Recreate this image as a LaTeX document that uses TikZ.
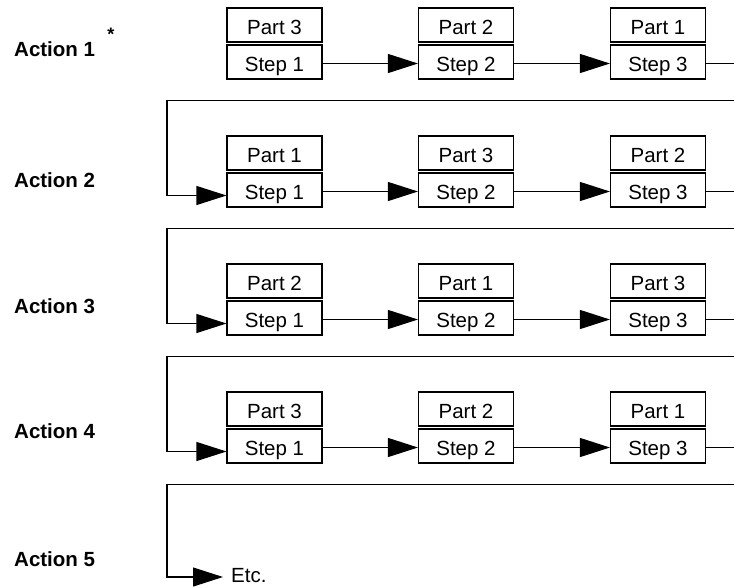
\documentclass[tikz,border=0pt]{standalone}
\usepackage{fontspec}
\setmainfont{Liberation Sans}
\usetikzlibrary{arrows.meta,calc}
\tikzset{
  box/.style={draw, line width=1.1pt, minimum width=95pt, minimum height=34pt,
    inner sep=0pt, text height=19pt, text depth=0pt, font=\fontsize{20.5}{24}\selectfont},
  lbl/.style={anchor=west, inner sep=0pt, font=\fontsize{20.5}{24}\selectfont\bfseries},
  conn/.style={line width=1.1pt},
  arr/.style={conn, -{Triangle[length=30pt,width=19pt]}},
}
\begin{document}
\begin{tikzpicture}[x=1pt,y=-1pt]
\useasboundingbox (0,0) rectangle (734,587);
\foreach \r/\a/\b/\c in {1/3/2/1,2/1/3/2,3/2/1/3,4/3/2/1}{
  \pgfmathsetmacro\T{45+128*(\r-1)}
  \node[box] (p\r1) at (274.5,\T-20) {Part \a};
  \node[box] (p\r2) at (466,\T-20) {Part \b};
  \node[box] (p\r3) at (658,\T-20) {Part \c};
  \node[box] (s\r1) at (274.5,\T+17) {Step 1};
  \node[box] (s\r2) at (466,\T+17) {Step 2};
  \node[box] (s\r3) at (658,\T+17) {Step 3};
  \draw[arr] ([yshift=-1.5pt]s\r1.east) -- ([yshift=-1.5pt]s\r2.west);
  \draw[arr] ([yshift=-1.5pt]s\r2.east) -- ([yshift=-1.5pt]s\r3.west);
  \coordinate (e\r) at (734,\T+18.5);
  \draw[conn] (s\r3.east |- e\r) -- (e\r);
  \coordinate (r\r) at (734,\T+55.5);
  \coordinate (l\r) at (167,\T+55.5);
}
\draw[arr] (r1) -- (l1) |- ([yshift=-5.5pt]s21.west);
\draw[arr] (r2) -- (l2) |- ([yshift=-5.5pt]s31.west);
\draw[arr] (r3) -- (l3) |- ([yshift=-5.5pt]s41.west);
\node[anchor=west, inner xsep=8pt, inner ysep=0pt, font=\fontsize{20.5}{24}\selectfont] (etc) at (223,575.5) {Etc.};
\draw[arr] (r4) -- (l4) |- ([yshift=-1.5pt]etc.west);
\node[lbl] (a1) at (14,49) {Action 1};
\node[lbl] (a2) at (14,180) {Action 2};
\node[lbl] (a3) at (14,306) {Action 3};
\node[lbl] (a4) at (14,431) {Action 4};
\node[lbl] (a5) at (14,559) {Action 5};
\node[anchor=base, inner sep=0pt, font=\fontsize{18}{20}\selectfont\bfseries] (star) at (111,40) {*};
\end{tikzpicture}
\end{document}
